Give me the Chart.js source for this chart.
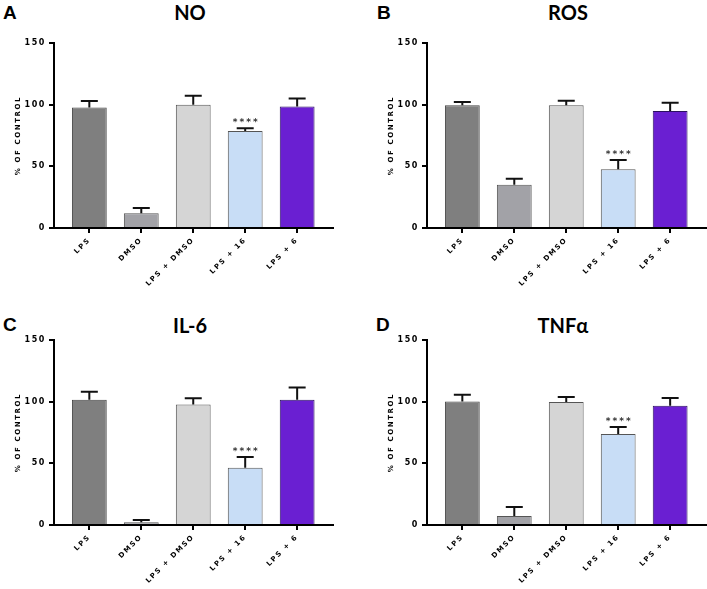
<!DOCTYPE html>
<html>
<head>
<meta charset="utf-8">
<script src="https://cdn.jsdelivr.net/npm/chart.js@4/dist/chart.umd.min.js"></script>
<style>
  body { margin: 0; background: #fff; width: 707px; height: 589px; overflow: hidden; position: relative; }
  canvas { position: absolute; }
  .letter { position: absolute; font: bold 19px "Liberation Sans", Arial, sans-serif; color: #000; line-height: 20px; }
  .title { position: absolute; width: 200px; text-align: center; font: bold 20px Lato, "Open Sans", sans-serif; color: #000; line-height: 24px; }
</style>
</head>
<body>
<div class="letter" style="left:3px; top:3px;">A</div>
<div class="title" style="left:90px; top:0px;">NO</div>
<div class="letter" style="left:377px; top:3px;">B</div>
<div class="title" style="left:468px; top:0px;">ROS</div>
<div class="letter" style="left:3px; top:315px;">C</div>
<div class="title" style="left:90px; top:313px;">IL-6</div>
<div class="letter" style="left:376px; top:315px;">D</div>
<div class="title" style="left:463px; top:313px;">TNFα</div>

<canvas id="chartNO" width="334" height="290" style="left:0px; top:0px;"></canvas>
<canvas id="chartROS" width="334" height="290" style="left:373px; top:0px;"></canvas>
<canvas id="chartIL6" width="334" height="290" style="left:0px; top:297px;"></canvas>
<canvas id="chartTNF" width="334" height="290" style="left:373px; top:297px;"></canvas>

<script>
// DATA
const categories = ['LPS', 'DMSO', 'LPS + DMSO', 'LPS + 16', 'LPS + 6'];
const yTicks = [0, 50, 100, 150];
const stars = ['', '', '', '****', ''];

const noMeans = [97.8, 11.9, 100.0, 78.6, 98.6];
const noErrors = [5.2, 4.3, 7.3, 2.2, 6.3];

const rosMeans = [99.5, 35.1, 99.5, 47.6, 94.9];
const rosErrors = [2.7, 4.9, 3.7, 7.5, 6.7];

const il6Means = [101.6, 2.2, 97.8, 46.5, 101.6];
const il6Errors = [6.5, 1.9, 4.9, 8.6, 9.8];

const tnfMeans = [100.2, 7.3, 99.7, 73.7, 96.7];
const tnfErrors = [5.4, 7.3, 4.1, 5.7, 6.3];

// bar colours, one per group
const barColors = ['#7f7f7f', '#a2a2a7', '#d5d5d5', '#c8ddf6', '#6a1fd2'];
const barBorders = ['#444444', '#555555', '#555555', '#555555', '#2b1160'];

// spaced-out lettering like the original figure
const spacingPlugin = {
    id: 'spacing',
    beforeDraw(chart) {
        chart.ctx.letterSpacing = '1.6px';
    }
};

// upper error bars + significance stars
const errorBarPlugin = {
    id: 'errorBars',
    afterDatasetsDraw(chart, args, opts) {
        const ctx = chart.ctx;
        const meta = chart.getDatasetMeta(0);
        const y = chart.scales.y;
        ctx.save();
        ctx.strokeStyle = '#111';
        ctx.lineWidth = 2;
        meta.data.forEach((bar, i) => {
            const top = y.getPixelForValue(opts.means[i] + opts.errors[i]);
            const base = y.getPixelForValue(opts.means[i]);
            ctx.beginPath();
            ctx.moveTo(bar.x, base);
            ctx.lineTo(bar.x, top);
            ctx.moveTo(bar.x - 8.5, top);
            ctx.lineTo(bar.x + 8.5, top);
            ctx.stroke();
            if (stars[i]) {
                ctx.fillStyle = '#333';
                ctx.font = 'bold 9px "DejaVu Sans"';
                ctx.letterSpacing = '2px';
                ctx.textAlign = 'center';
                ctx.textBaseline = 'bottom';
                ctx.fillText(stars[i], bar.x + 1, top - 1);
            }
        });
        ctx.restore();
    }
};

function makePanel(id, means, errors) {
    const ctx = document.getElementById(id).getContext('2d');
    return new Chart(ctx, {
        type: 'bar',
        data: {
            datasets: [{
                data: means.map((v, i) => ({ x: i, y: v })),
                backgroundColor: barColors,
                borderColor: barBorders,
                borderWidth: 1,
                categoryPercentage: 1,
                barPercentage: 0.67
            }]
        },
        plugins: [spacingPlugin, errorBarPlugin],
        options: {
            responsive: false,
            animation: false,
            devicePixelRatio: 1,
            layout: { padding: { left: 0, right: 1, top: 43, bottom: 0 } },
            plugins: {
                legend: { display: false },
                tooltip: { enabled: false },
                errorBars: { means: means, errors: errors }
            },
            scales: {
                x: {
                    type: 'linear',
                    offset: false,
                    min: -0.68,
                    max: 4.69,
                    afterFit: s => { s.height = 62; },
                    afterBuildTicks: s => { s.ticks = categories.map((c, i) => ({ value: i })); },
                    border: { display: true, color: '#000', width: 2 },
                    grid: { offset: false, drawOnChartArea: false, drawTicks: true, tickLength: 5, color: '#000', lineWidth: 2 },
                    ticks: {
                        color: '#000',
                        font: { family: 'DejaVu Sans', size: 7, weight: 'bold' },
                        minRotation: 45,
                        maxRotation: 45,
                        padding: 3,
                        autoSkip: false,
                        callback: v => categories[v]
                    }
                },
                y: {
                    min: 0,
                    max: 150,
                    afterFit: s => { s.width = 54; },
                    afterBuildTicks: s => { s.ticks = yTicks.map(v => ({ value: v })); },
                    border: { display: true, color: '#000', width: 2 },
                    grid: { drawOnChartArea: false, drawTicks: true, tickLength: 5, color: '#000', lineWidth: 2 },
                    ticks: {
                        color: '#000',
                        font: { family: 'DejaVu Sans', size: 8, weight: 'bold' },
                        padding: 3
                    },
                    title: {
                        display: true,
                        text: '% OF CONTROL',
                        color: '#000',
                        font: { family: 'DejaVu Sans', size: 7, weight: 'bold' },
                        padding: { top: 14, bottom: 0 }
                    }
                }
            }
        }
    });
}

makePanel('chartNO', noMeans, noErrors);
makePanel('chartROS', rosMeans, rosErrors);
makePanel('chartIL6', il6Means, il6Errors);
makePanel('chartTNF', tnfMeans, tnfErrors);
</script>
</body>
</html>
